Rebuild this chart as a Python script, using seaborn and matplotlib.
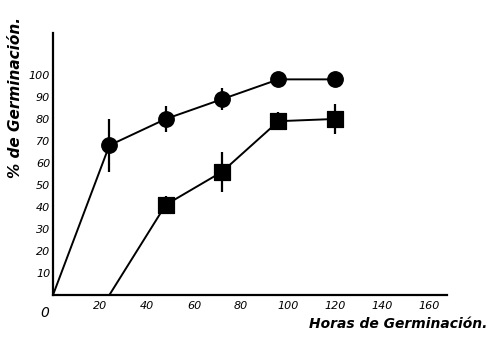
import matplotlib
matplotlib.use("Agg")
import matplotlib.pyplot as plt
import seaborn as sns
import pandas as pd

# Data
circle_hours = [24, 48, 72, 96, 120]
circle_pct = [68, 80, 89, 98, 98]
circle_err = [12, 6, 5, 2, 0]
circle_start = (0, 0)

square_hours = [48, 72, 96, 120]
square_pct = [41, 56, 79, 80]
square_err = [4, 9, 4, 7]
square_start = (24, 0)

x_ticks = [20, 40, 60, 80, 100, 120, 140, 160]
y_ticks = [10, 20, 30, 40, 50, 60, 70, 80, 90, 100]

sns.set_style("white")
plt.rcParams['font.family'] = ['DejaVu Sans']
plt.rcParams['text.color'] = 'black'
plt.rcParams['xtick.color'] = 'black'
plt.rcParams['ytick.color'] = 'black'

fig = plt.figure(figsize=(4.98, 3.37), dpi=100)
ax = fig.add_axes([0.1064, 0.1246, 0.791, 0.777])

circ_line = pd.DataFrame({"h": [circle_start[0]] + circle_hours,
                          "p": [circle_start[1]] + circle_pct})
sq_line = pd.DataFrame({"h": [square_start[0]] + square_hours,
                        "p": [square_start[1]] + square_pct})

sns.lineplot(data=circ_line, x="h", y="p", ax=ax, color="black", lw=1.4, sort=False)
sns.lineplot(data=sq_line, x="h", y="p", ax=ax, color="black", lw=1.4, sort=False)

ax.errorbar(circle_hours, circle_pct, yerr=circle_err, fmt="none", ecolor="black", elinewidth=1.6, capsize=0)
ax.errorbar(square_hours, square_pct, yerr=square_err, fmt="none", ecolor="black", elinewidth=1.6, capsize=0)

circ_pts = pd.DataFrame({"h": circle_hours, "p": circle_pct})
sq_pts = pd.DataFrame({"h": square_hours, "p": square_pct})
sns.scatterplot(data=circ_pts, x="h", y="p", ax=ax, marker="o", s=125, color="black", edgecolor="black", zorder=5)
sns.scatterplot(data=sq_pts, x="h", y="p", ax=ax, marker="s", s=120, color="black", edgecolor="black", zorder=5)

ax.set_xlim(0, 167.7)
ax.set_ylim(0, 119)
ax.set_xticks(x_ticks)
ax.set_xticklabels([str(t) for t in x_ticks], fontsize=8, fontstyle="italic")
ax.set_yticks(y_ticks)
ax.set_yticklabels([str(t) for t in y_ticks], fontsize=8, fontstyle="italic")
ax.tick_params(axis="both", length=0)
ax.tick_params(axis="y", pad=2)
ax.tick_params(axis="x", pad=4)

for s in ["top", "right"]:
    ax.spines[s].set_visible(False)
for s in ["left", "bottom"]:
    ax.spines[s].set_color("black")
    ax.spines[s].set_linewidth(1.6)

ax.set_xlabel("")
ax.set_ylabel("")
fig.text(0.032, 0.71, "% de Germinación.", rotation=90, fontsize=11,
         fontstyle="italic", fontweight="bold", ha="center", va="center")
fig.text(0.80, 0.04, "Horas de Germinación.", fontsize=10,
         fontstyle="italic", fontweight="bold", ha="center", va="center")
ax.text(-3.5, -8, "0", fontsize=10, fontstyle="italic", ha="center", va="center")

fig.savefig("out.png", dpi=100)
